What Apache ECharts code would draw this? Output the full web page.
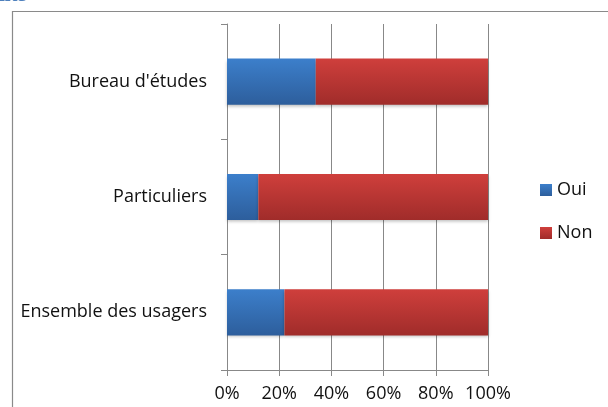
<!DOCTYPE html>
<html><head><meta charset="utf-8">
<script src="https://cdn.jsdelivr.net/npm/echarts@6/dist/echarts.min.js"></script>
<style>html,body{margin:0;padding:0;background:#fff}#c{width:608px;height:407px}</style>
</head><body><div id="c"></div>
<script>
const categories = ["Ensemble des usagers", "Particuliers", "Bureau d'études"];
const oui = [22, 12, 34];
const non = [78, 88, 66];
const xTicks = [0, 20, 40, 60, 80, 100];

const chart = echarts.init(document.getElementById('c'), null, {renderer: 'canvas'});
const font = "'Open Sans', 'Noto Sans', sans-serif";
function grad(a, b) {
  return new echarts.graphic.LinearGradient(0, 0, 0, 1, [{offset: 0, color: a}, {offset: 1, color: b}]);
}
chart.setOption({
  animation: false,
  graphic: [
    {type: 'polyline', shape: {points: [[12.5, 410], [12.5, 11.5], [610, 11.5]]}, style: {fill: null, stroke: '#8a8a8a', lineWidth: 1.2}, z: 10},
    {type: 'text', x: -1, y: -11, style: {text: 'nts', font: "bold 16px 'DejaVu Serif', serif", fill: '#4f81bd', verticalAlign: 'top'}}
  ],
  grid: {left: 227, right: 120, top: 24, bottom: 37},
  legend: {
    orient: 'vertical', left: 540, top: 181, padding: 0, itemWidth: 12, itemHeight: 12, itemGap: 25,
    icon: 'rect',
    textStyle: {fontFamily: font, fontSize: 18, color: '#111'},
    data: ['Oui', 'Non']
  },
  xAxis: {
    type: 'value', min: 0, max: 100, interval: 20,
    axisLabel: {formatter: v => xTicks.includes(v) ? v + '%' : '', fontFamily: font, fontSize: 18, color: '#111', margin: 15},
    axisLine: {show: true, lineStyle: {color: '#888'}},
    axisTick: {show: true, length: 6, lineStyle: {color: '#888'}},
    splitLine: {show: true, lineStyle: {color: '#888'}}
  },
  yAxis: {
    type: 'category', data: categories,
    axisLabel: {fontFamily: font, fontSize: 18, color: '#111', margin: 20},
    axisLine: {show: true, lineStyle: {color: '#888'}},
    axisTick: {show: true, length: 6, lineStyle: {color: '#888'}}
  },
  series: [
    {name: 'Oui', type: 'bar', stack: 't', data: oui, barCategoryGap: '60%',
     itemStyle: {color: grad('#3c7fcb', '#2d5e9c'), shadowColor: 'rgba(0,0,0,0.25)', shadowBlur: 3, shadowOffsetY: 2}},
    {name: 'Non', type: 'bar', stack: 't', data: non, barCategoryGap: '60%',
     itemStyle: {color: grad('#cf3f3c', '#a02c2a'), shadowColor: 'rgba(0,0,0,0.25)', shadowBlur: 3, shadowOffsetY: 2}}
  ]
});
</script></body></html>
